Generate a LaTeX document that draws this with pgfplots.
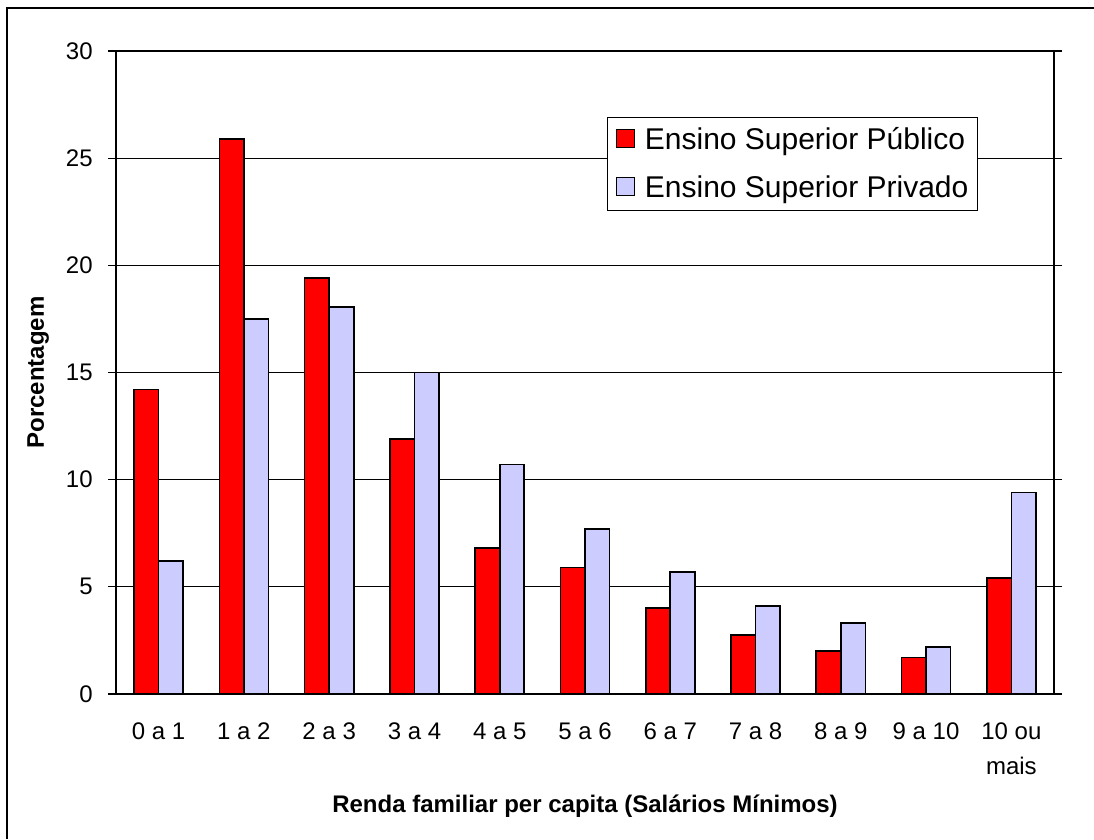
\documentclass[border=0pt]{standalone}
\usepackage{fontspec}
\setmainfont{Liberation Sans}
\usepackage{pgfplots}
\pgfplotsset{compat=1.18}
\definecolor{publico}{RGB}{255,0,0}
\definecolor{privado}{RGB}{204,204,255}

\begin{document}
\begin{tikzpicture}
% page frame, 1px = 0.75pt
\path[use as bounding box] (0,0) rectangle (820.5pt,629.25pt);
\draw[line width=1.5pt] (5.25pt,0) -- (5.25pt,623.25pt) -- (820.5pt,623.25pt);
\begin{axis}[
    at={(87pt,108.75pt)}, anchor=south west,
    scale only axis,
    width=703.5pt, height=482.25pt,
    ybar=0pt,
    bar width=18.4pt,
    xmin=-0.5, xmax=10.5,
    ymin=0, ymax=30,
    ytick={0,5,...,30},
    xtick={0,...,10},
    xticklabels={0 a 1,1 a 2,2 a 3,3 a 4,4 a 5,5 a 6,6 a 7,7 a 8,8 a 9,9 a 10,{10 ou\\mais}},
    major x tick style={draw=none},
    extra x ticks={-0.5,0.5,...,10.5},
    extra x tick labels={},
    extra x tick style={grid=none, tick style={draw=black, line width=0.8pt}},
    tick align=outside,
    major tick length=6pt,
    ymajorgrids,
    grid style={black, line width=0.6pt},
    axis line style={black, line width=1.2pt},
    y tick style={black, line width=0.8pt},
    tick label style={font=\fontsize{18}{25.5}\selectfont},
    xticklabel style={align=center, yshift=-12pt, font=\fontsize{18}{26.5}\selectfont},
    yticklabel style={xshift=-8pt},
    /pgf/number format/assume math mode=true,
    xlabel={Renda familiar per capita (Salários Mínimos)},
    ylabel={Porcentagem},
    label style={font=\bfseries\fontsize{18}{21}\selectfont},
    x label style={at={(axis description cs:0.5,-0.174)}, anchor=center},
    y label style={at={(axis description cs:-0.083,0.5)}, anchor=center},
    legend style={at={(axis description cs:0.5235,0.898)}, anchor=north west,
        draw=black, line width=0.8pt, fill=white,
        font=\fontsize{22.5}{27}\selectfont,
        row sep=14pt, inner xsep=3pt, inner ysep=6pt,
        nodes={inner xsep=4pt}},
    legend cell align=left,
    legend image code/.code={\path[draw=none, fill=none] (0pt,0pt) -- (21pt,0pt);
        \draw[#1, draw=black, line width=0.8pt] (3.5pt,-6pt) rectangle (17.5pt,8pt);},
]
\addplot[fill=publico, draw=black, line width=1.2pt] coordinates {
(0,14.2) (1,25.9) (2,19.4) (3,11.9) (4,6.8) (5,5.9) (6,4.0) (7,2.75) (8,2.0) (9,1.7) (10,5.4)};
\addplot[fill=privado, draw=black, line width=1.2pt] coordinates {
(0,6.2) (1,17.5) (2,18.05) (3,15.0) (4,10.7) (5,7.7) (6,5.7) (7,4.1) (8,3.3) (9,2.2) (10,9.4)};
\legend{Ensino Superior Público, Ensino Superior Privado}
\end{axis}
\end{tikzpicture}
\end{document}
